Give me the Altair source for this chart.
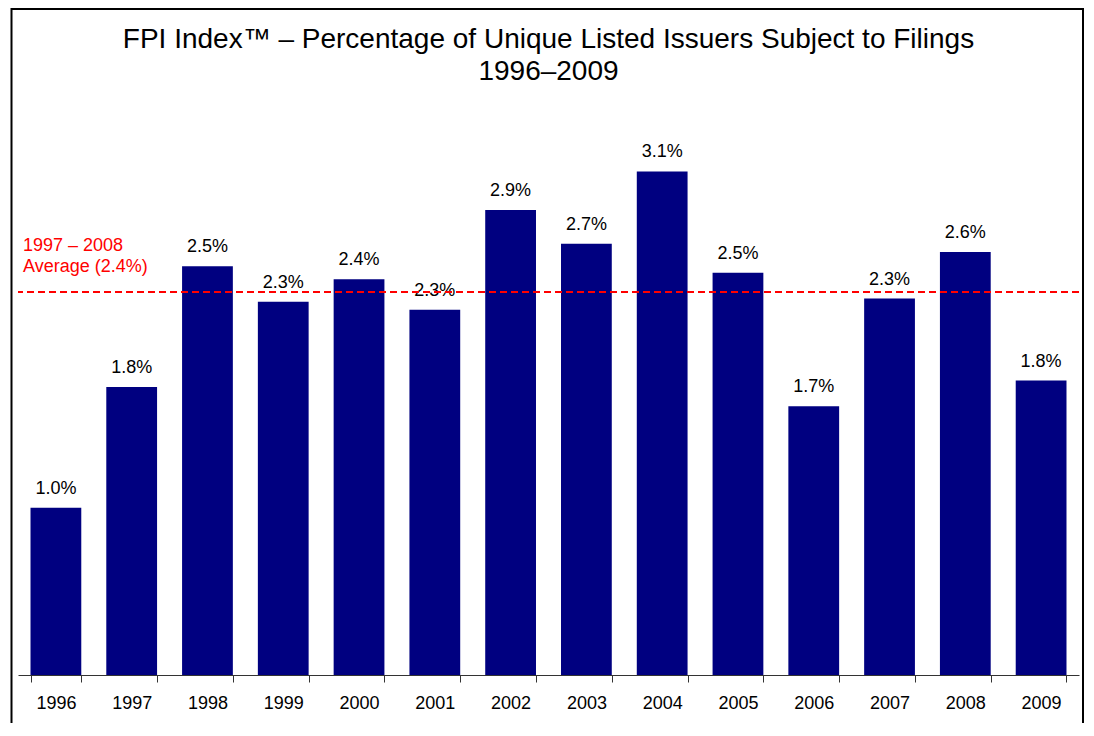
import altair as alt
import pandas as pd

years = ["1996", "1997", "1998", "1999", "2000", "2001", "2002",
         "2003", "2004", "2005", "2006", "2007", "2008", "2009"]
values = [1.04, 1.79, 2.54, 2.32, 2.46, 2.27, 2.89,
          2.68, 3.13, 2.50, 1.67, 2.34, 2.63, 1.83]
labels = ["1.0%", "1.8%", "2.5%", "2.3%", "2.4%", "2.3%", "2.9%",
          "2.7%", "3.1%", "2.5%", "1.7%", "2.3%", "2.6%", "1.8%"]
avg_value = 2.38
avg_text = "1997 \u2013 2008\nAverage (2.4%)"
title_line1 = "FPI Index\u2122 \u2013 Percentage of Unique Listed Issuers Subject to Filings"
title_line2 = "1996\u20132009"

FONT = "Liberation Sans"

df = pd.DataFrame({"year": years, "value": values, "label": labels})
avg_df = pd.DataFrame({"avg": [avg_value], "text": [avg_text]})
title_df = pd.DataFrame({"t1": [title_line1], "t2": [title_line2]})

x_enc = alt.X(
    "year:N", sort=years,
    scale=alt.Scale(paddingInner=0.33, paddingOuter=0.165),
    axis=alt.Axis(title=None, labelAngle=0, tickBand="extent", tickSize=7,
                  tickColor="#333333", domainColor="#333333", tickWidth=1,
                  domainWidth=1, labelFontSize=18, labelFont=FONT,
                  labelColor="black", labelPadding=12, grid=False),
)
y_enc = alt.Y("value:Q", scale=alt.Scale(domain=[0, 3.4], nice=False), axis=None)

base = alt.Chart(df)
bars = base.mark_bar(color="#000080").encode(x=x_enc, y=y_enc)
bar_labels = base.mark_text(baseline="alphabetic", dy=-14, fontSize=18,
                            font=FONT, color="black").encode(
    x=alt.X("year:N", sort=years), y="value:Q", text="label:N")

avg_rule = alt.Chart(avg_df).mark_rule(color="#FF0000", strokeDash=[7, 4],
                                        strokeWidth=2).encode(y="avg:Q")
avg_label = alt.Chart(avg_df).mark_text(
    align="left", baseline="bottom", dy=-37, fontSize=18, font=FONT,
    color="#FF0000", lineBreak="\n", lineHeight=21).encode(
    x=alt.value(5), y="avg:Q", text="text:N")

title1 = alt.Chart(title_df).mark_text(
    align="center", baseline="alphabetic", fontSize=28, font=FONT,
    color="black").encode(x=alt.value(530.5), y=alt.value(-80), text="t1:N")
title2 = alt.Chart(title_df).mark_text(
    align="center", baseline="alphabetic", fontSize=28, font=FONT,
    color="black").encode(x=alt.value(530.5), y=alt.value(-48), text="t2:N")

frame = alt.Chart(title_df).mark_rect(fillOpacity=0, stroke="black",
                                       strokeWidth=2).encode(
    x=alt.value(-6.5), x2=alt.value(1065), y=alt.value(-119), y2=alt.value(720))

chart = alt.layer(bars, bar_labels, avg_rule, avg_label, title1, title2, frame).properties(
    width=1061, height=547,
    autosize=alt.AutoSizeParams(type="none"),
    padding={"left": 10, "top": 120, "right": 5, "bottom": 48},
    background="white",
).configure_view(strokeWidth=0)

chart.save("out.html", embed_options={"renderer": "svg", "actions": False})
